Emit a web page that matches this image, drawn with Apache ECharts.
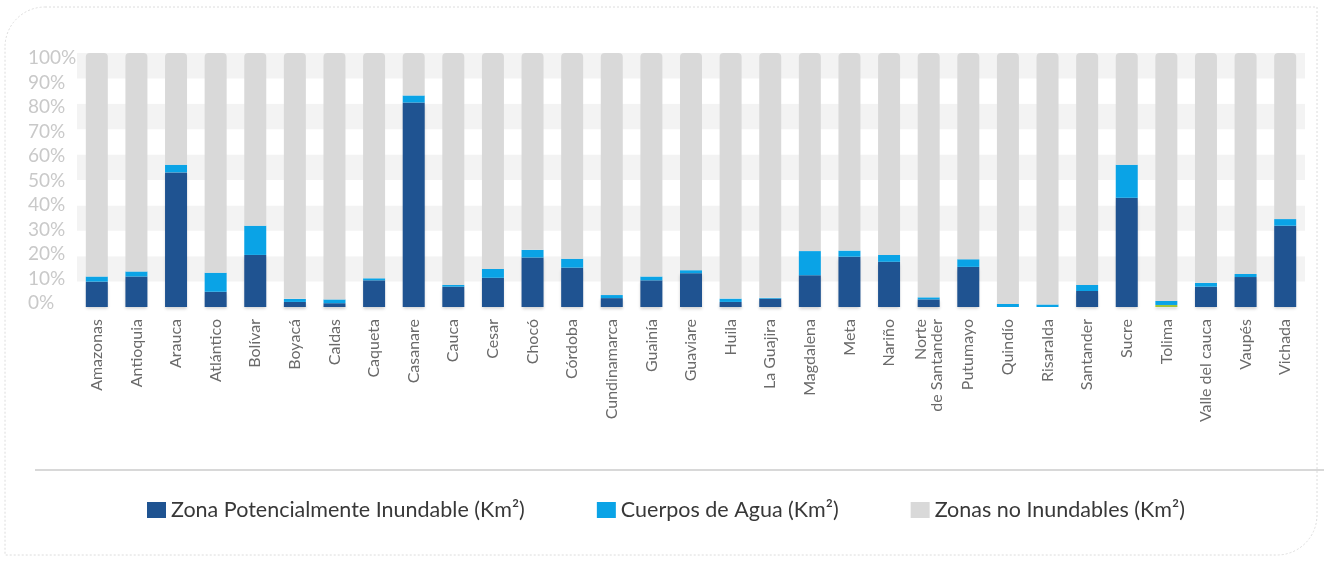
<!DOCTYPE html>
<html>
<head>
<meta charset="utf-8">
<script src="https://cdn.jsdelivr.net/npm/echarts@6/dist/echarts.min.js"></script>
<style>html,body{margin:0;padding:0;background:#fff}#c{width:1324px;height:562px}</style>
</head>
<body>
<div id="c"></div>
<script>
const categories = ['Amazonas','Antioquia','Arauca','Atlántico','Bolívar','Boyacá','Caldas','Caqueta','Casanare','Cauca','Cesar','Chocó','Córdoba','Cundinamarca','Guainía','Guaviare','Huila','La Guajira','Magdalena','Meta','Nariño','Norte\nde Santander','Putumayo','Quindío','Risaralda','Santander','Sucre','Tolima','Valle del cauca','Vaupés','Vichada'];
const zonaInundable = [10,12,53,6,20.5,2,1.5,10.5,80.5,8,11.5,19.5,15.5,3.5,10.5,13.3,2,3.3,12.5,19.8,17.8,3,15.8,0,0,6.3,43,0.8,8,11.8,32];
const cuerposAgua = [2,2,3,7.5,11.5,1.2,1.5,0.8,2.8,0.7,3.5,3,3.5,1.2,1.5,1.2,1.3,0.3,9.5,2.4,2.7,0.8,3,1.2,1,2.4,13,1.6,1.5,1.2,2.6];
const noInundables = categories.map((c,i)=>+(100 - zonaInundable[i] - cuerposAgua[i]).toFixed(2));
const yTicks = [0,10,20,30,40,50,60,70,80,90,100];
const seriesNames = ['Zona Potencialmente Inundable (Km²)','Cuerpos de Agua (Km²)','Zonas no Inundables (Km²)'];
const colors = ['#1f5391','#0aa3e6','#d9d9d9'];

const chart = echarts.init(document.getElementById('c'));
const font = 'Lato, "Open Sans", sans-serif';
chart.setOption({
  animation:false,
  textStyle:{fontFamily:font},
  grid:[
    {left:77,right:19,top:53,bottom:255},
    {left:77,right:19,top:58,bottom:259}
  ],
  legend:{
    top:494,left:142,
    itemWidth:19,itemHeight:16,itemGap:72,
    icon:'rect',
    textStyle:{fontFamily:font,fontSize:21.5,color:'#383838'},
    data:seriesNames.map((n,i)=>({name:n,itemStyle:{color:colors[i]}}))
  },
  xAxis:[
    {
      type:'category',data:categories,gridIndex:0,
      axisLine:{show:false},axisTick:{show:false},
      axisLabel:{rotate:90,interval:0,margin:12,fontSize:16,color:'#6a6a6a',fontFamily:font,lineHeight:16}
    },
    {type:'category',data:categories,gridIndex:1,show:false}
  ],
  yAxis:[
    {
      type:'value',min:0,max:100,interval:10,gridIndex:0,
      axisLine:{show:false},axisTick:{show:false},
      splitLine:{show:false},
      splitArea:{show:true,areaStyle:{color:['#ffffff','#f3f3f3']}},
      axisLabel:{show:false}
    },
    {
      type:'value',min:0,max:100,interval:10,gridIndex:1,
      axisLine:{show:false},axisTick:{show:false},splitLine:{show:false},
      axisLabel:{formatter:v=>yTicks.includes(v)?v+'%':'',align:'left',margin:49,fontSize:19,color:'#c9c9c9',fontFamily:font}
    }
  ],
  graphic:[
    {type:'rect',silent:true,shape:{x:5,y:7,width:1312,height:548,r:[40,0,40,0]},style:{fill:'none',stroke:'#dcdcdc',lineWidth:1,lineDash:[2,2]}},
    {type:'line',silent:true,shape:{x1:35,y1:470,x2:1324,y2:470},style:{stroke:'#d8d8d8',lineWidth:2}}
  ],
  series:[
    {name:seriesNames[0],type:'bar',stack:'t',barWidth:22,data:zonaInundable,
      itemStyle:{color:p=>categories[p.dataIndex]==='Tolima'?'#a3c43a':colors[0],shadowColor:'rgba(0,0,0,0.18)',shadowBlur:3,shadowOffsetY:2}},
    {name:seriesNames[1],type:'bar',stack:'t',data:cuerposAgua,itemStyle:{color:colors[1]}},
    {name:seriesNames[2],type:'bar',stack:'t',data:noInundables,itemStyle:{color:colors[2],borderRadius:[4,4,0,0]}}
  ]
});
</script>
</body>
</html>
